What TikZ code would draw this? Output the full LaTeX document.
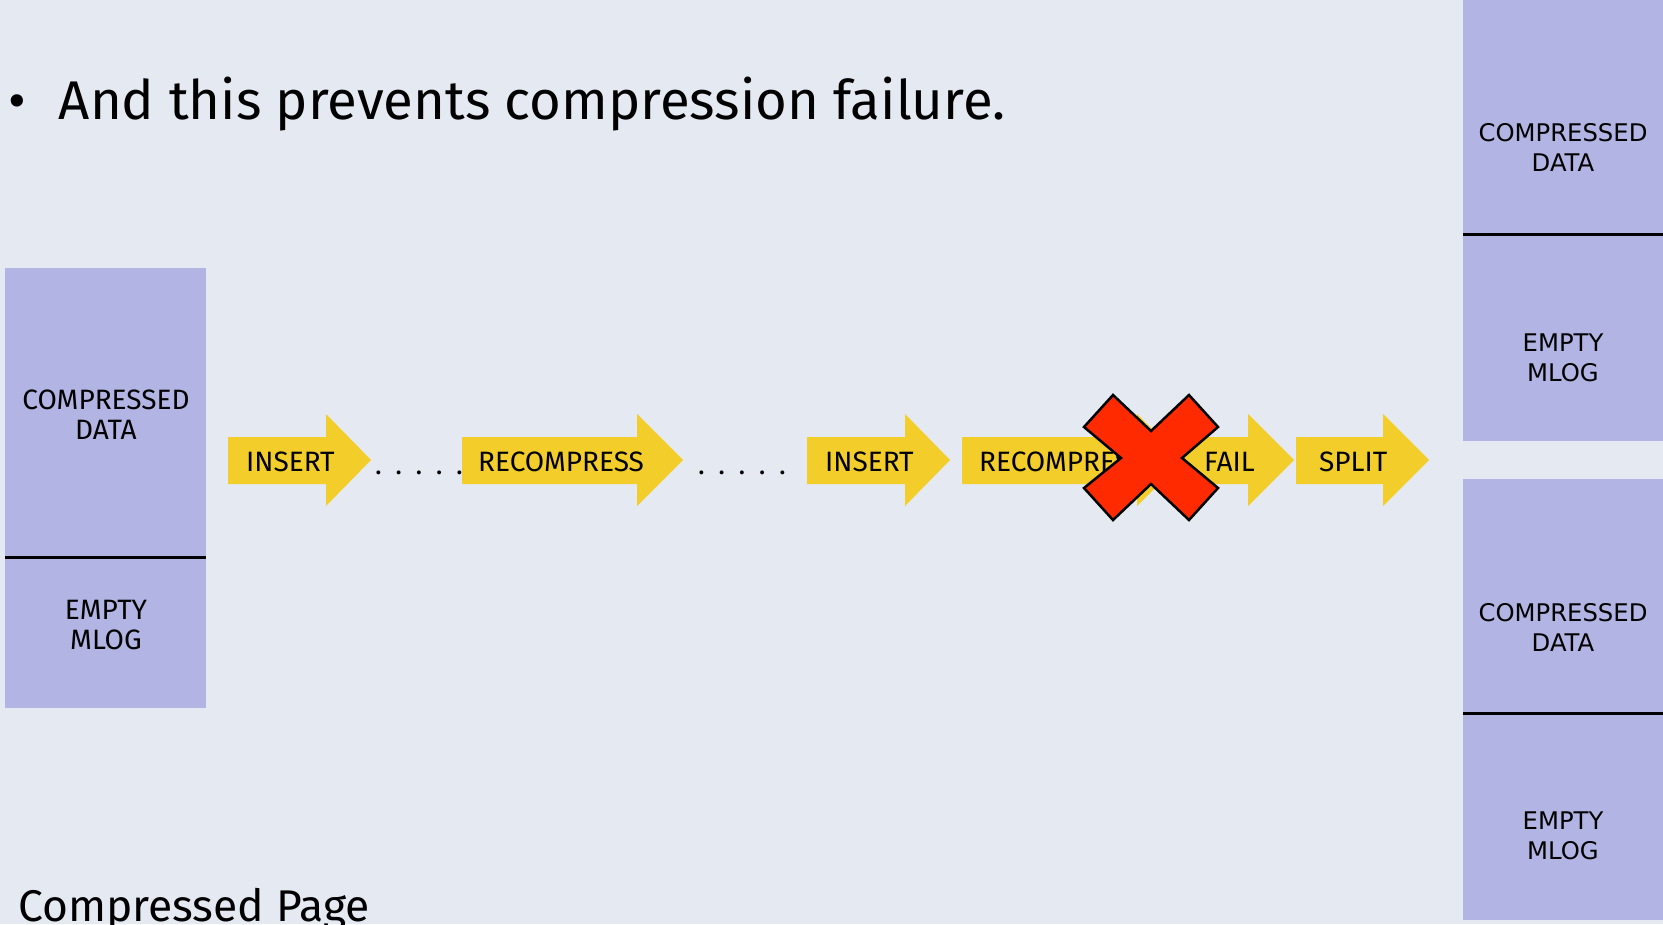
\documentclass[tikz,border=0pt]{standalone}
\usepackage{fontspec}
\setmainfont{Fira Sans}
\newfontfamily\boxfont{DejaVu Sans}
\definecolor{bg}{RGB}{229,234,242}
\definecolor{boxc}{RGB}{178,180,228}
\definecolor{yel}{RGB}{243,205,42}
\definecolor{xred}{RGB}{255,42,0}
\begin{document}
\begin{tikzpicture}[x=1pt,y=-1pt,
  atext/.style={anchor=base west,inner sep=0pt,font=\fontsize{28}{30}\selectfont},
  ltext/.style={align=center,inner sep=0pt,font=\fontsize{28}{30}\selectfont},
  rtext/.style={align=center,inner sep=0pt,font=\boxfont\fontsize{24.3}{30}\selectfont},
  page/.style={fill=boxc,draw=none},
  divider/.style={line width=3pt,black},
  yarrow/.style={fill=yel,draw=none}]
\fill[bg] (0,0) rectangle (1663,924);
\useasboundingbox (0,0) rectangle (1663,924);
% title
\node[anchor=base west,inner sep=0pt,font=\fontsize{54.5}{60}\selectfont] (title) at (8,119) {\textbullet\hspace{33pt}And this prevents compression failure.};
\node[anchor=base west,inner sep=0pt,font=\fontsize{44.4}{50}\selectfont] (cap) at (18,921) {Compressed Page};
% left page
\fill[page] (5,268) rectangle (206,708);
\draw[divider] (5,557) -- (206,557);
\node[ltext] (lcd) at (106,415) {COMPRESSED\\DATA};
\node[ltext] (lem) at (106,625) {EMPTY\\MLOG};
% right pages
\fill[page] (1463,0) rectangle (1663,441);
\draw[divider] (1463,234) -- (1663,234);
\node[rtext] (rcd1) at (1563,147) {COMPRESSED\\DATA};
\node[rtext] (rem1) at (1563,358) {EMPTY\\MLOG};
\fill[page] (1463,479) rectangle (1663,920);
\draw[divider] (1463,713) -- (1663,713);
\node[rtext] (rcd2) at (1563,627) {COMPRESSED\\DATA};
\node[rtext] (rem2) at (1563,836) {EMPTY\\MLOG};
% arrows
\fill[yarrow] (228,437) -- (326,437) -- (326,414) -- (371,460) -- (326,506) -- (326,484) -- (228,484) -- cycle;
\node[atext] (a1) at (246,471) {INSERT};
\fill[yarrow] (462,437) -- (637,437) -- (637,414) -- (683,460) -- (637,506) -- (637,484) -- (462,484) -- cycle;
\node[atext] (a2) at (478,471) {RECOMPRESS};
\fill[yarrow] (807,437) -- (905,437) -- (905,414) -- (950,460) -- (905,506) -- (905,484) -- (807,484) -- cycle;
\node[atext] (a3) at (825,471) {INSERT};
\fill[yarrow] (962,437) -- (1137,437) -- (1137,414) -- (1183,460) -- (1137,506) -- (1137,484) -- (962,484) -- cycle;
\node[atext] (a4) at (979,471) {RECOMPRESS};
\fill[yarrow] (1151,437) -- (1248,437) -- (1248,414) -- (1294,460) -- (1248,506) -- (1248,484) -- (1151,484) -- cycle;
\node[atext] (a5) at (1204,471) {FAIL};
\fill[yarrow] (1296,437) -- (1383,437) -- (1383,414) -- (1429,460) -- (1383,506) -- (1383,484) -- (1296,484) -- cycle;
\node[atext] (a6) at (1319,471) {SPLIT};
% dots
\node[atext] (d1) at (375,474) {.\hskip13.5pt.\hskip13.5pt.\hskip13.5pt.\hskip13.5pt.};
\node[atext] (d2) at (698,474) {.\hskip13.5pt.\hskip13.5pt.\hskip13.5pt.\hskip13.5pt.};
% cross
\draw[fill=xred,line width=2.5pt,line join=miter] (1113,395) -- (1151,431) -- (1189,395) -- (1218,427) -- (1182,458) -- (1218,488) -- (1189,520) -- (1151,484) -- (1113,520) -- (1084,488) -- (1121,458) -- (1084,427) -- cycle;
\end{tikzpicture}
\end{document}
